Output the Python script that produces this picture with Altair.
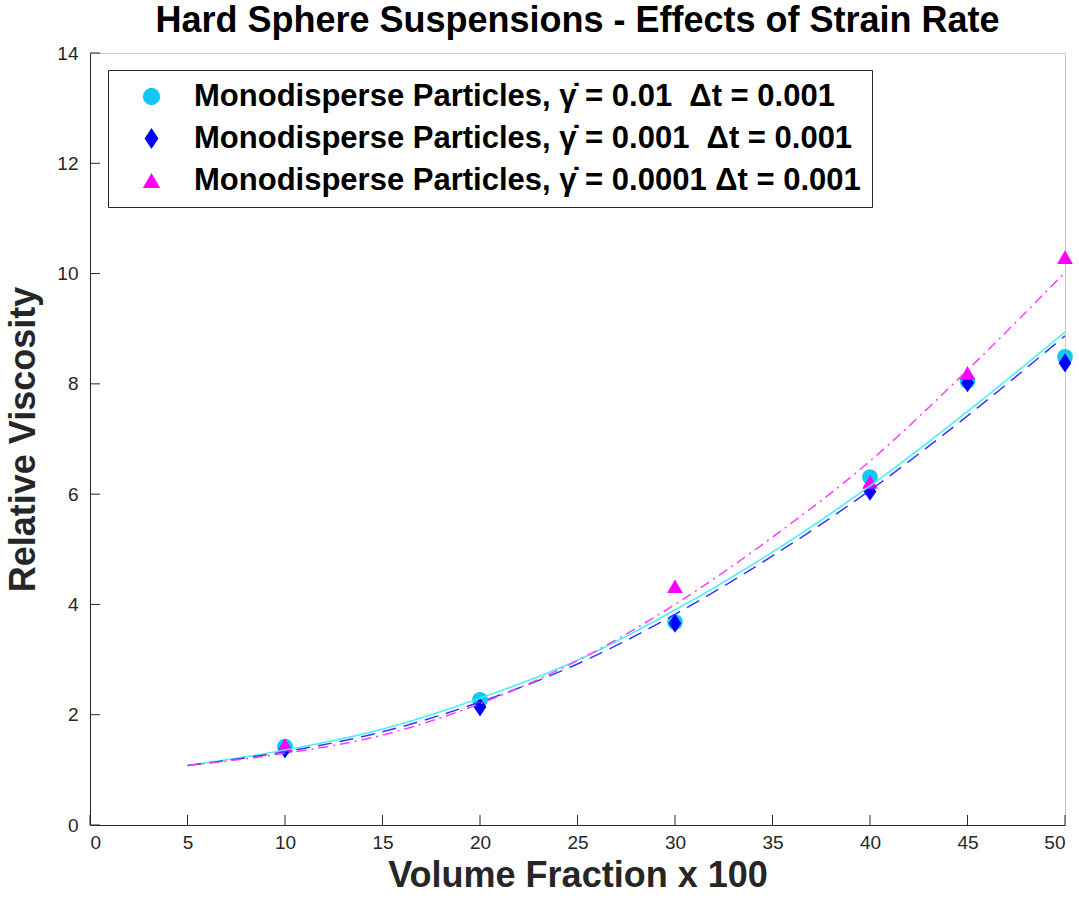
import altair as alt
import pandas as pd

NB = "\u00a0"
series = [
    "Monodisperse Particles, \u03b3\u0307 = 0.01" + NB + NB + "\u0394t = 0.001",
    "Monodisperse Particles, \u03b3\u0307 = 0.001" + NB + NB + "\u0394t = 0.001",
    "Monodisperse Particles, \u03b3\u0307 = 0.0001" + NB + "\u0394t = 0.001",
]
marker_colors = ["#12c8f2", "#0000ff", "#ff00ff"]
line_colors = ["#3ff2f2", "#3535ff", "#ff3cff"]
line_dashes = [[1, 0], [14, 8], [10, 5, 2, 5]]

# measured points
x_circ = [10, 20, 30, 40, 45, 50]
y_circ = [1.42, 2.27, 3.68, 6.31, 8.05, 8.49]
x_diam = [10, 20, 30, 40, 45, 50]
y_diam = [1.38, 2.14, 3.66, 6.05, 8.02, 8.38]
x_tri = [10, 30, 40, 45, 50]
y_tri = [1.45, 4.33, 6.22, 8.2, 10.3]

# fitted curves
x_fit = [5, 10, 15, 20, 25, 30, 35, 40, 45, 50]
y_fit_cyan = [1.08, 1.36, 1.74, 2.30, 2.99, 3.90, 4.95, 6.15, 7.50, 8.94]
y_fit_blue = [1.08, 1.33, 1.69, 2.23, 2.92, 3.82, 4.88, 6.07, 7.42, 8.87]
y_fit_mag = [1.08, 1.30, 1.63, 2.20, 2.98, 4.00, 5.22, 6.60, 8.25, 10.02]

x_ticks = [0, 5, 10, 15, 20, 25, 30, 35, 40, 45, 50]
y_ticks = [0, 2, 4, 6, 8, 10, 12, 14]

pts = pd.concat([
    pd.DataFrame({"x": x_circ, "y": y_circ, "s": series[0], "o": 0}),
    pd.DataFrame({"x": x_diam, "y": y_diam, "s": series[1], "o": 1}),
    pd.DataFrame({"x": x_tri, "y": y_tri, "s": series[2], "o": 2}),
])
fit_tables = [
    pd.DataFrame({"x": x_fit, "y": y_fit_cyan}),
    pd.DataFrame({"x": x_fit, "y": y_fit_blue}),
    pd.DataFrame({"x": x_fit, "y": y_fit_mag}),
]

W, H = 975, 772
xs = alt.Scale(domain=[0, 50], nice=False)
ys = alt.Scale(domain=[0, 14], nice=False)

diamond = "M0,-1.2L0.8,0L0,1.2L-0.8,0Z"

xax = alt.Axis(values=x_ticks, ticks=False, grid=False, labelPadding=8, format="d",
               title="Volume Fraction x 100", titlePadding=6)
yax = alt.Axis(values=y_ticks, ticks=False, grid=False, labelPadding=12, format="d",
               title="Relative Viscosity", titlePadding=14)

leg = alt.Legend(title=None, orient="none", legendX=18, legendY=17,
                 strokeColor="#262626", fillColor="white", padding=11,
                 labelFont="Liberation Sans", labelFontSize=31,
                 labelFontWeight="bold", labelColor="black",
                 labelLimit=900, symbolSize=300, symbolOffset=17,
                 labelOffset=27, rowPadding=10, symbolStrokeWidth=0)

points = alt.Chart(pts).mark_point(filled=True, opacity=1, size=250).encode(
    x=alt.X("x:Q", scale=xs, axis=xax),
    y=alt.Y("y:Q", scale=ys, axis=yax),
    color=alt.Color("s:N", scale=alt.Scale(domain=series, range=marker_colors), legend=leg),
    shape=alt.Shape("s:N", scale=alt.Scale(domain=series, range=["circle", diamond, "triangle-up"]), legend=leg),
    order=alt.Order("o:Q"),
)

lines = [
    alt.Chart(fit_tables[i]).mark_line(strokeWidth=1.5, interpolate="monotone",
                                       color=line_colors[i], strokeDash=line_dashes[i]).encode(
        x=alt.X("x:Q", scale=xs), y=alt.Y("y:Q", scale=ys))
    for i in range(3)
]

xt = alt.Chart(pd.DataFrame({"t": x_ticks})).mark_rule(color="#262626", strokeWidth=1).encode(
    x=alt.X("t:Q", scale=xs), y=alt.value(H), y2=alt.value(H - 10))
yt = alt.Chart(pd.DataFrame({"t": y_ticks})).mark_rule(color="#262626", strokeWidth=1).encode(
    y=alt.Y("t:Q", scale=ys), x=alt.value(0), x2=alt.value(10))

chart = alt.layer(points, *lines, xt, yt).properties(
    width=W, height=H,
    background="white",
    autosize=alt.AutoSizeParams(type="none"),
    padding={"left": 90, "top": 53, "right": 14, "bottom": 80},
    title=alt.Title("Hard Sphere Suspensions - Effects of Strain Rate", fontSize=36,
                    font="Liberation Sans", fontWeight="bold", color="black", offset=4, anchor="middle"),
).configure_view(stroke="#c8c8c8", strokeWidth=1).configure_axis(
    domainColor="#262626", domainWidth=1,
    labelFont="Liberation Sans", labelFontSize=19, labelColor="#262626",
    titleFont="Liberation Sans", titleFontSize=36, titleFontWeight="bold", titleColor="#262626",
)

chart.save("out.html", embed_options={"renderer": "svg", "actions": False})
